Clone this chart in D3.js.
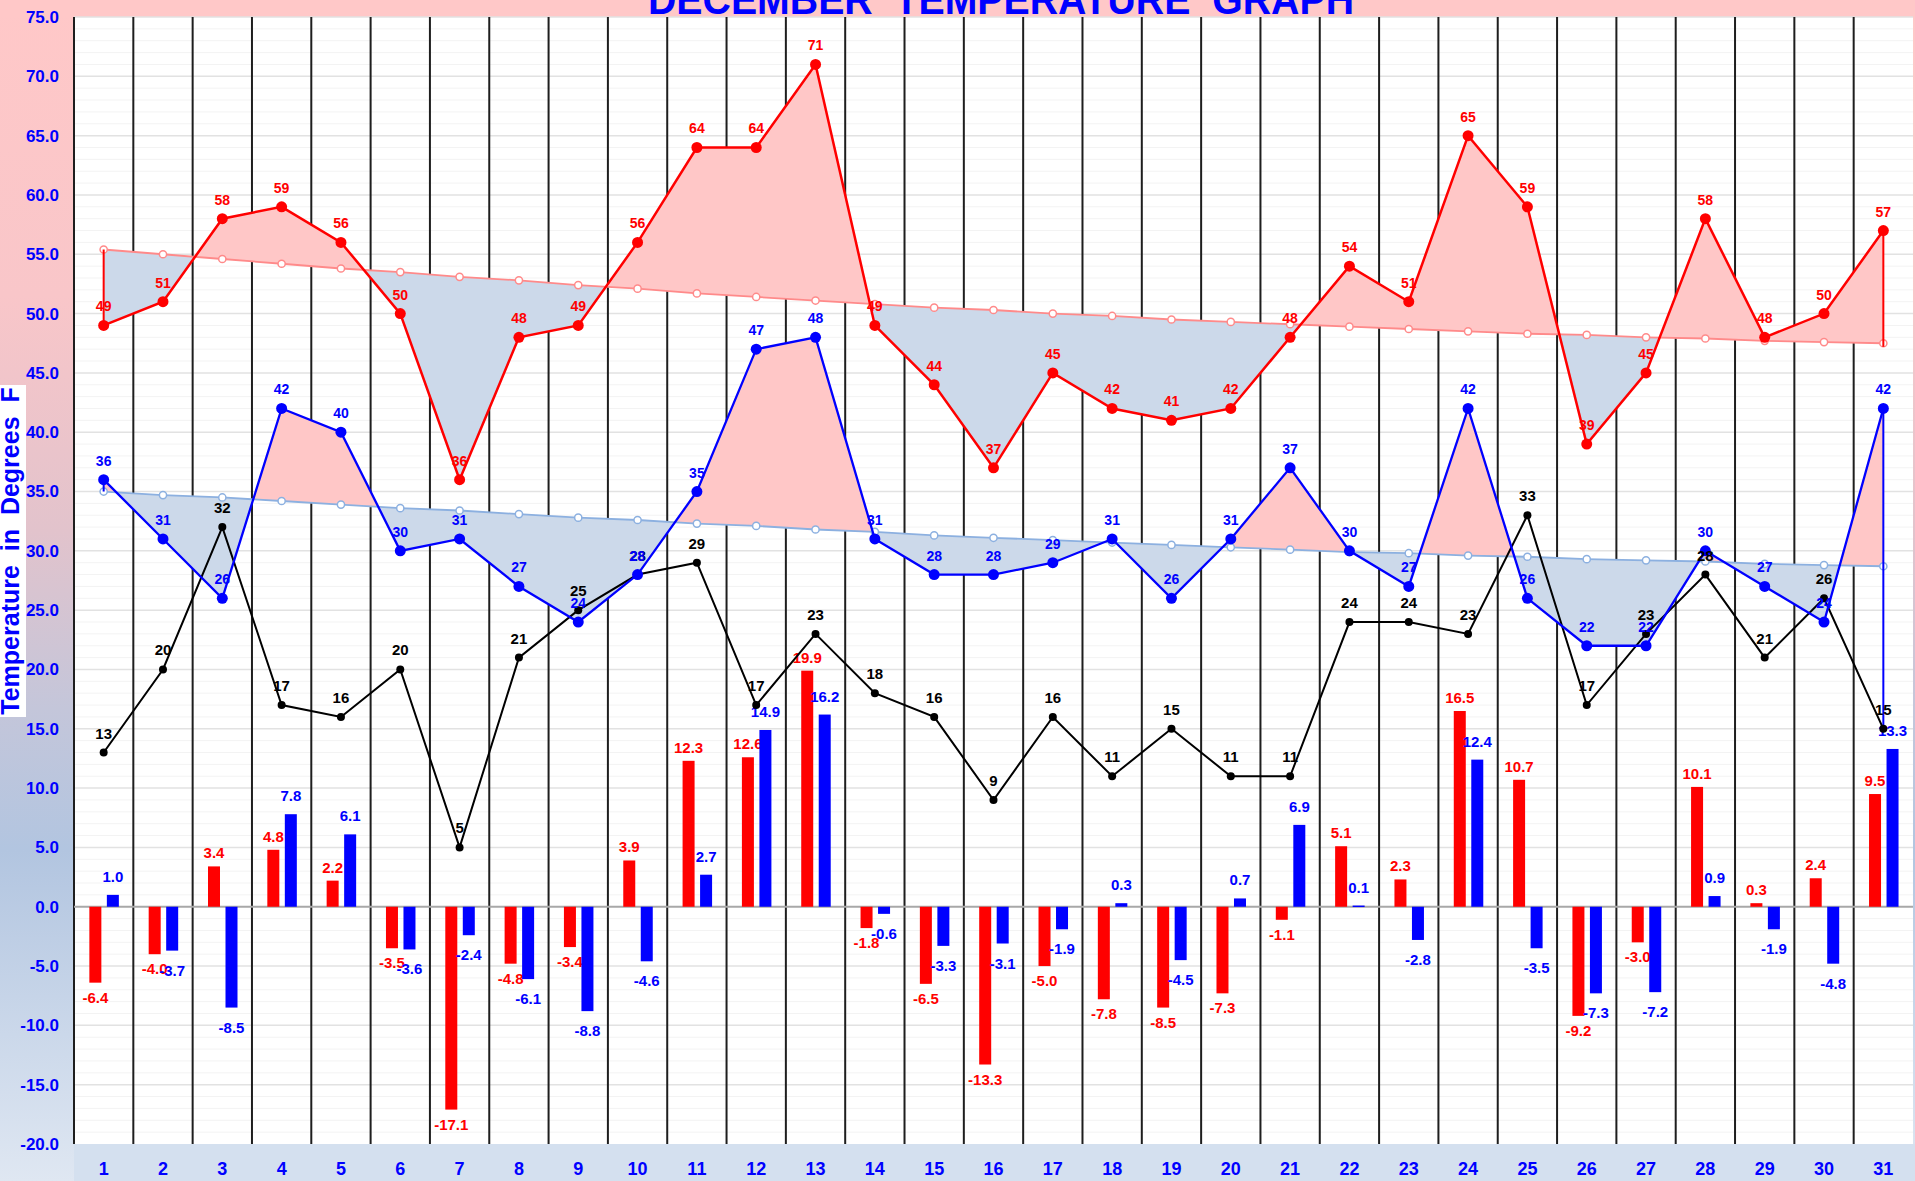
<!DOCTYPE html>
<html>
<head>
<meta charset="utf-8">
<script src="https://cdn.jsdelivr.net/npm/d3@7/dist/d3.min.js"></script>
<style>
body{margin:0;background:#fff;}
svg{display:block;font-family:"Liberation Sans",Arial,sans-serif;font-weight:bold;}
</style>
</head>
<body>
<svg id="chart" width="1915" height="1181"></svg>
<script>
const days = [1,2,3,4,5,6,7,8,9,10,11,12,13,14,15,16,17,18,19,20,21,22,23,24,25,26,27,28,29,30,31]
const highs = [49,51,58,59,56,50,36,48,49,56,64,64,71,49,44,37,45,42,41,42,48,54,51,65,59,39,45,58,48,50,57]
const lows = [36,31,26,42,40,30,31,27,24,28,35,47,48,31,28,28,29,31,26,31,37,30,27,42,26,22,22,30,27,24,42]
const blacks = [13,20,32,17,16,20,5,21,25,28,29,17,23,18,16,9,16,11,15,11,11,24,24,23,33,17,23,28,21,26,15]
const normalHigh = [55.4,55.0,54.6,54.2,53.8,53.5,53.1,52.8,52.4,52.1,51.7,51.4,51.1,50.8,50.5,50.3,50.0,49.8,49.5,49.3,49.1,48.9,48.7,48.5,48.3,48.2,48.0,47.9,47.7,47.6,47.5]
const normalLow = [35.0,34.7,34.5,34.2,33.9,33.6,33.4,33.1,32.8,32.6,32.3,32.1,31.8,31.6,31.3,31.1,30.9,30.7,30.5,30.3,30.1,29.9,29.8,29.6,29.5,29.3,29.2,29.1,28.9,28.8,28.7]
const highDep = [-6.4,-4.0,3.4,4.8,2.2,-3.5,-17.1,-4.8,-3.4,3.9,12.3,12.6,19.9,-1.8,-6.5,-13.3,-5.0,-7.8,-8.5,-7.3,-1.1,5.1,2.3,16.5,10.7,-9.2,-3.0,10.1,0.3,2.4,9.5]
const lowDep = [1.0,-3.7,-8.5,7.8,6.1,-3.6,-2.4,-6.1,-8.8,-4.6,2.7,14.9,16.2,-0.6,-3.3,-3.1,-1.9,0.3,-4.5,0.7,6.9,0.1,-2.8,12.4,-3.5,-7.3,-7.2,0.9,-1.9,-4.8,13.3]
// end edges of the two filled series: [day 1 edge end, day 31 edge end]
const highEdgeEnd = [55.4, 47.2]
const lowEdgeEnd = [35.0, 15.0]
const yTicks = [-20,-15,-10,-5,0,5,10,15,20,25,30,35,40,45,50,55,60,65,70,75]
const title = "DECEMBER  TEMPERATURE  GRAPH"
const yTitle = "Temperature  in  Degrees  F"

const W = 1915, H = 1181
const pLeft = 74, pRight = 1913, pTop = 17, pBottom = 1144

const svg = d3.select("#chart")
const fmt = v => v.toFixed(1)

const x = d3.scaleBand().domain(days).range([pLeft, pRight])
const bw = x.bandwidth()
const cx = d => x(d) + bw / 2
const y = d3.scaleLinear().domain([-20, 75]).range([pBottom, pTop])

//backgrounds
const defs = svg.append("defs")
const grad = defs.append("linearGradient").attr("id", "sideGrad")
    .attr("gradientUnits", "userSpaceOnUse").attr("x1", 0).attr("y1", 0).attr("x2", 0).attr("y2", H)
const stops = [[0, "#ffc8c8"], [0.25, "#f9c6c9"], [0.45, "#e2c3cc"], [0.6, "#c4c6da"], [0.72, "#b2c5e0"], [1, "#dfe7f2"]]
grad.selectAll("stop").data(stops).join("stop").attr("offset", d => d[0]).attr("stop-color", d => d[1])

svg.append("rect").attr("width", W).attr("height", H).attr("fill", "url(#sideGrad)")
svg.append("rect").attr("width", W).attr("height", pTop).attr("fill", "#ffc8c8")
svg.append("rect").attr("x", pLeft).attr("y", pBottom).attr("width", W - pLeft).attr("height", H - pBottom).attr("fill", "#d4e0ef")

svg.append("text").attr("x", 1001).attr("y", 14).attr("text-anchor", "middle").style("white-space", "pre")
    .attr("font-size", 42).attr("fill", "#0000ff").attr("textLength", 706).attr("lengthAdjust", "spacingAndGlyphs")
    .text(title)

svg.append("rect").attr("x", pLeft).attr("y", pTop).attr("width", pRight - pLeft).attr("height", pBottom - pTop).attr("fill", "#fff")

//grid
const minor = d3.range(-20, 76, 1).filter(v => v % 5 !== 0)
svg.append("g").selectAll("line").data(minor).join("line")
    .attr("x1", pLeft).attr("x2", pRight).attr("y1", d => y(d)).attr("y2", d => y(d))
    .attr("stroke", "#f3f3f3").attr("stroke-width", 1)
svg.append("g").selectAll("line").data(yTicks.filter(v => v !== 0 && v !== -20)).join("line")
    .attr("x1", pLeft).attr("x2", pRight).attr("y1", d => y(d)).attr("y2", d => y(d))
    .attr("stroke", "#e2e2e2").attr("stroke-width", 1.5)

//day separators
svg.append("g").selectAll("line").data(days).join("line")
    .attr("x1", d => x(d)).attr("x2", d => x(d)).attr("y1", pTop).attr("y2", pBottom)
    .attr("stroke", "#1e1e1e").attr("stroke-width", 2)

svg.append("line").attr("x1", pLeft).attr("x2", pRight).attr("y1", y(0)).attr("y2", y(0))
    .attr("stroke", "#a8a8a8").attr("stroke-width", 2)

//axes
const yAxis = svg.append("g").attr("transform", `translate(${pLeft},0)`)
    .call(d3.axisLeft(y).tickValues(yTicks).tickFormat(fmt).tickSize(0).tickPadding(15))
yAxis.select(".domain").remove()
yAxis.selectAll("text").attr("fill", "#0000ff").attr("font-size", 17).attr("font-family", null)

const xAxis = svg.append("g").attr("transform", `translate(0,${pBottom})`)
    .call(d3.axisBottom(x).tickSize(0).tickPadding(18))
xAxis.select(".domain").remove()
xAxis.selectAll("text").attr("fill", "#0000ff").attr("font-size", 18).attr("font-family", null)

svg.append("rect").attr("x", 0).attr("y", 385).attr("width", 26).attr("height", 332).attr("fill", "#fff")
svg.append("text").attr("transform", "translate(19,551) rotate(-90)").attr("text-anchor", "middle")
    .style("white-space", "pre").attr("font-size", 25).attr("fill", "#0000ff").text(yTitle)

//filled departures between actual and normal
const fillPair = (actual, normal, id) => {
    const idx = days.map((d, i) => i)
    const above = defs.append("clipPath").attr("id", id + "Above")
    above.append("path").attr("d", d3.area().x(i => cx(days[i])).y0(pTop).y1(i => y(normal[i]))(idx))
    const below = defs.append("clipPath").attr("id", id + "Below")
    below.append("path").attr("d", d3.area().x(i => cx(days[i])).y0(pBottom).y1(i => y(normal[i]))(idx))
    const between = d3.area().x(i => cx(days[i])).y0(i => y(normal[i])).y1(i => y(actual[i]))(idx)
    svg.append("path").attr("d", between).attr("fill", "#ffc7c7").attr("clip-path", `url(#${id}Above)`)
    svg.append("path").attr("d", between).attr("fill", "#ccd9ea").attr("clip-path", `url(#${id}Below)`)
}
fillPair(highs, normalHigh, "hi")
fillPair(lows, normalLow, "lo")

//departure bars
const barW = 12
const barSets = [
    {vals: highDep, off: 0.36, color: "#ff0000", up: 8, down: 20},
    {vals: lowDep, off: 0.655, color: "#0000ff", up: 13, down: 25}
]
barSets.forEach(s => {
    const g = svg.append("g")
    g.selectAll("rect").data(days).join("rect")
        .attr("x", (d, i) => x(d) + bw * s.off - barW / 2)
        .attr("y", (d, i) => y(Math.max(0, s.vals[i])))
        .attr("width", barW)
        .attr("height", (d, i) => Math.max(1.5, Math.abs(y(s.vals[i]) - y(0))))
        .attr("fill", s.color)
    g.selectAll("text").data(days).join("text")
        .attr("x", (d, i) => x(d) + bw * s.off)
        .attr("y", (d, i) => s.vals[i] >= 0 ? y(s.vals[i]) - s.up : y(s.vals[i]) + s.down)
        .attr("text-anchor", "middle").attr("font-size", 15).attr("fill", s.color)
        .text((d, i) => fmt(s.vals[i]))
})

//normal lines
const drawNormal = (vals, color) => {
    svg.append("path").attr("d", d3.line().x((v, i) => cx(days[i])).y(v => y(v))(vals))
        .attr("fill", "none").attr("stroke", color).attr("stroke-width", 1.8)
    svg.append("g").selectAll("circle").data(vals).join("circle")
        .attr("cx", (v, i) => cx(days[i])).attr("cy", v => y(v)).attr("r", 3.6)
        .attr("fill", "#fff").attr("stroke", color).attr("stroke-width", 1.5)
}
drawNormal(normalHigh, "#ff8a8a")
drawNormal(normalLow, "#8cb0e0")

//edges at the ends of the filled series
const drawEdges = (vals, ends, color) => {
    svg.append("g").selectAll("line").data([0, vals.length - 1]).join("line")
        .attr("x1", i => cx(days[i])).attr("x2", i => cx(days[i]))
        .attr("y1", i => y(vals[i])).attr("y2", (i, k) => y(ends[k]))
        .attr("stroke", color).attr("stroke-width", 2)
}
drawEdges(highs, highEdgeEnd, "#ff0000")
drawEdges(lows, lowEdgeEnd, "#0000ff")

//actual series
const series = [
    {vals: blacks, color: "#000", width: 2, r: 4, size: 15},
    {vals: lows, color: "#0000ff", width: 2.3, r: 5.5, size: 14},
    {vals: highs, color: "#ff0000", width: 2.5, r: 5.5, size: 14}
]
series.forEach(s => {
    svg.append("path").attr("d", d3.line().x((v, i) => cx(days[i])).y(v => y(v))(s.vals))
        .attr("fill", "none").attr("stroke", s.color).attr("stroke-width", s.width)
    svg.append("g").selectAll("circle").data(s.vals).join("circle")
        .attr("cx", (v, i) => cx(days[i])).attr("cy", v => y(v)).attr("r", s.r).attr("fill", s.color)
})
series.forEach(s => {
    svg.append("g").selectAll("text").data(s.vals).join("text")
        .attr("x", (v, i) => cx(days[i])).attr("y", v => y(v) - 14)
        .attr("text-anchor", "middle").attr("font-size", s.size).attr("fill", s.color)
        .text(v => v)
})
</script>
</body>
</html>
